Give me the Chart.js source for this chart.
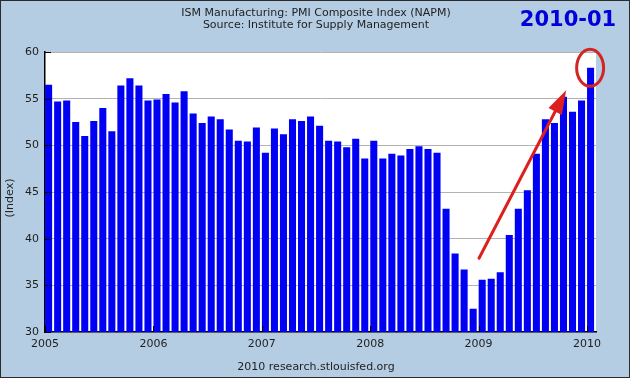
<!DOCTYPE html>
<html>
<head>
<meta charset="utf-8">
<script src="https://cdn.jsdelivr.net/npm/chart.js@4/dist/chart.umd.min.js"></script>
<style>
  html, body { margin: 0; padding: 0; background: #b5cde3; }
  canvas { display: block; }
</style>
</head>
<body>
<canvas id="c" width="630" height="378"></canvas>
<script>
// ---- Data (monthly, 2005-01 .. 2010-01) ----
const startYear = 2005;
const yearLabels = ['2005', '2006', '2007', '2008', '2009', '2010'];
const pmiValues = [
  56.5, 54.7, 54.8, 52.5, 51.0, 52.6, 54.0, 51.5, 56.4, 57.2, 56.4, 54.8,
  54.9, 55.5, 54.6, 55.8, 53.4, 52.4, 53.1, 52.8, 51.7, 50.5, 50.4, 51.9,
  49.2, 51.8, 51.2, 52.8, 52.6, 53.1, 52.1, 50.5, 50.4, 49.8, 50.7, 48.6,
  50.5, 48.6, 49.1, 48.9, 49.6, 49.9, 49.6, 49.2, 43.2, 38.4, 36.7, 32.5,
  35.6, 35.7, 36.4, 40.4, 43.2, 45.2, 49.1, 52.8, 52.4, 55.2, 53.6, 54.8,
  58.3
];
const yTicks = [30, 35, 40, 45, 50, 55, 60];
const titleLines = ['ISM Manufacturing: PMI Composite Index (NAPM)', 'Source: Institute for Supply Management'];
const stampText = '2010-01';
const footerText = '2010 research.stlouisfed.org';
const axisTitle = '(Index)';

// ---- Layout constants ----
const BAR_OFFSET = 0.4;
const FONT = '"DejaVu Sans", Verdana, sans-serif';

const decor = {
  id: 'decor',
  beforeDraw(chart) {
    const { ctx, chartArea: a, width, height } = chart;
    ctx.save();
    ctx.fillStyle = '#b5cde3';
    ctx.fillRect(0, 0, width, height);
    ctx.strokeStyle = '#2b2b2b';
    ctx.lineWidth = 1;
    ctx.strokeRect(0.5, 0.5, width - 1, height - 1);
    ctx.fillStyle = '#ffffff';
    ctx.fillRect(a.left, a.top, a.right - a.left, a.bottom - a.top);

    ctx.fillStyle = '#1e1e1e';
    ctx.font = '11px ' + FONT;
    ctx.textAlign = 'center';
    ctx.textBaseline = 'middle';
    ctx.fillText(titleLines[0], 316, 13);
    ctx.fillText(titleLines[1], 316, 25.5);
    ctx.fillText(footerText, 316, 367);

    ctx.font = 'bold 21px ' + FONT;
    ctx.fillStyle = '#0000dd';
    ctx.fillText(stampText, 568, 21);

    ctx.save();
    ctx.translate(10.5, 198);
    ctx.rotate(-Math.PI / 2);
    ctx.font = '11px ' + FONT;
    ctx.fillStyle = '#1e1e1e';
    ctx.fillText(axisTitle, 0, 0);
    ctx.restore();
    ctx.restore();
  },
  afterDatasetsDraw(chart) {
    const { ctx, chartArea: a, scales } = chart;
    const xs = scales.x, ys = scales.y;
    ctx.save();
    // inward tick marks
    ctx.strokeStyle = '#000';
    ctx.lineWidth = 1;
    ctx.beginPath();
    yTicks.forEach(v => {
      const py = Math.round(ys.getPixelForValue(v)) + 0.5;
      ctx.moveTo(a.left, py); ctx.lineTo(a.left + 6, py);
    });
    yearLabels.forEach((_, k) => {
      const px = Math.round(xs.getPixelForValue(k * 12)) + 0.5;
      ctx.moveTo(px, a.bottom); ctx.lineTo(px, a.bottom - 6);
    });
    ctx.stroke();

    // red arrow annotation
    const x1 = xs.getPixelForValue(48.05), y1 = ys.getPixelForValue(37.9);
    const x2 = xs.getPixelForValue(57.7), y2 = ys.getPixelForValue(55.9);
    const ang = Math.atan2(y2 - y1, x2 - x1);
    const headLen = 24, headHalf = 7.5;
    const bx = x2 - headLen * Math.cos(ang), by = y2 - headLen * Math.sin(ang);
    ctx.strokeStyle = '#de1f1f';
    ctx.fillStyle = '#de1f1f';
    ctx.lineWidth = 3;
    ctx.lineCap = 'round';
    ctx.beginPath();
    ctx.moveTo(x1, y1); ctx.lineTo(bx + 2 * Math.cos(ang), by + 2 * Math.sin(ang));
    ctx.stroke();
    ctx.beginPath();
    ctx.moveTo(x2, y2);
    ctx.lineTo(bx + headHalf * Math.sin(ang), by - headHalf * Math.cos(ang));
    ctx.lineTo(bx - headHalf * Math.sin(ang), by + headHalf * Math.cos(ang));
    ctx.closePath();
    ctx.fill();

    // red ellipse around last bar
    const cx = xs.getPixelForValue(pmiValues.length - 1 + 0.35);
    const cy = ys.getPixelForValue(58.3);
    ctx.strokeStyle = '#d42424';
    ctx.lineWidth = 3;
    ctx.beginPath();
    ctx.ellipse(cx, cy, 13.5, 18.5, 0, 0, Math.PI * 2);
    ctx.stroke();
    ctx.restore();
  }
};

new Chart(document.getElementById('c'), {
  type: 'bar',
  data: {
    datasets: [{
      data: pmiValues.map((v, i) => ({ x: i + BAR_OFFSET, y: v })),
      backgroundColor: '#0000f5',
      borderWidth: 0,
      categoryPercentage: 1,
      barPercentage: 0.78
    }]
  },
  options: {
    responsive: false,
    animation: false,
    devicePixelRatio: 1,
    layout: { padding: { top: 52, right: 34, left: 0, bottom: 0 } },
    plugins: { legend: { display: false }, tooltip: { enabled: false }, title: { display: false } },
    scales: {
      x: {
        type: 'linear',
        offset: false,
        min: 0,
        max: pmiValues.length,
        afterFit(s) { s.height = 46; },
        grid: { display: true, offset: false, drawOnChartArea: false, drawTicks: false },
        border: { display: true, color: '#000', width: 1.5 },
        ticks: {
          stepSize: 12,
          includeBounds: false,
          autoSkip: false,
          maxRotation: 0,
          padding: 6,
          color: '#1e1e1e',
          font: { family: FONT, size: 11 },
          callback: v => (v % 12 === 0 ? yearLabels[v / 12] : '')
        }
      },
      y: {
        min: yTicks[0],
        max: yTicks[yTicks.length - 1],
        afterFit(s) { s.width = 45; },
        grid: { color: '#b3b3b3', lineWidth: 1, drawTicks: false },
        border: { display: true, color: '#000', width: 1.5 },
        ticks: {
          stepSize: 5,
          padding: 6,
          color: '#1e1e1e',
          font: { family: FONT, size: 11 }
        }
      }
    }
  },
  plugins: [decor]
});
</script>
</body>
</html>
